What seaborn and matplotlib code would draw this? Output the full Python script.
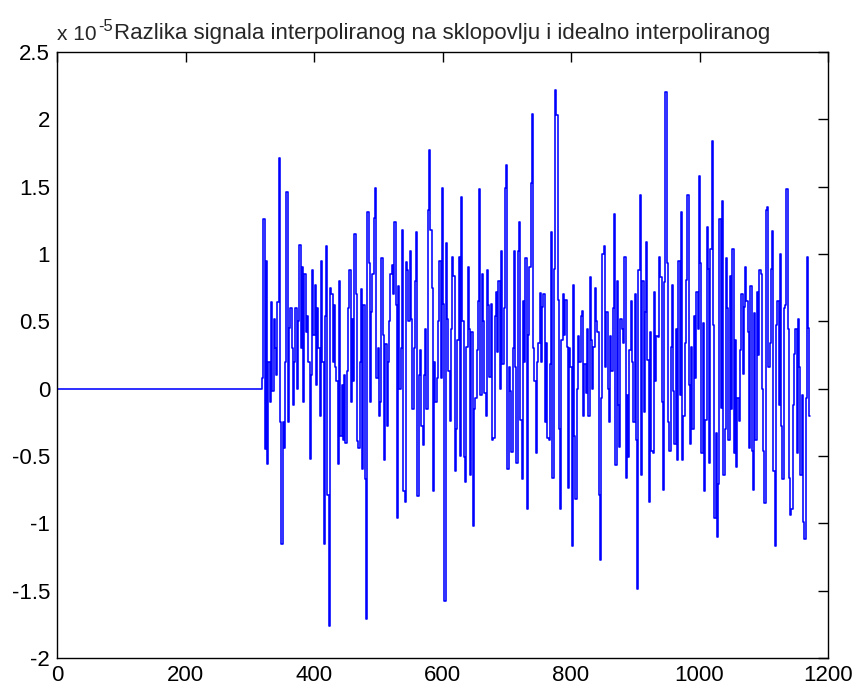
import numpy as np
import pandas as pd
import matplotlib
matplotlib.use("Agg")
import matplotlib.pyplot as plt
import seaborn as sns

# ---------------- data (values in units of 1e-5) ----------------
lead_x = [1, 319]          # flat zero segment before the noise starts
lead_y = [0.0, 0.0]
noise_start = 320
noise_end = 1172

seg1 = [0.08, 1.26, -0.45, 0.95, -0.56, 0.2, -0.1, 0.64, -0.02, 0.52, 0.3, 0.1, 0.64, 1.71,
        -0.25, -1.15, -0.25, -0.44, 0.2, 1.46, -0.25, 0.45, 0.6, 0.3, -0.12, 0.2, 0.6, 0.0,
        0.5, 1.07, 0.3, 0.9, -0.1, 0.85, 0.42, 0.54, 0.2, -0.52, 0.1, 0.88, 0.4, 0.77, 0.03,
        0.6, 0.3, -0.2, 0.95, 0.2, -1.15, 0.54, 1.06, -0.79, -1.76, 0.75, 0.7, 0.2, 0.62,
        0.16, 0.06, -0.56, 0.8, -0.35, 0.03, -0.38, 0.1, -0.4, 0.13, 0.6, 0.88, -0.1, 0.52]
seg2 = [0.06, 1.15, 0.7, -0.39, -0.44, 0.2, 0.74, -0.6, 0.62, -0.67, -1.71, 1.31, 0.93,
        -0.1, 0.57, 0.85, 1.27, 1.49, 0.08, 0.3, -0.2, -0.1, 0.97, 0.4, -0.53, 0.33, -0.28,
        0.2, 0.5, 0.85, 0.92, 0.7, 1.24, 0.62, -0.96, 0.76, 0.0, 0.3, 1.18, -0.76, -0.84,
        0.94, 0.88, 0.5, 1.02, 0.52, -0.15, 0.3, 0.8, 1.16, -0.8, 0.1, 0.29, -0.28, -0.42,
        0.1, 0.44, -0.15, 1.33, 1.77, 1.18, 0.75, -0.76, 0.2, -0.1, 0.08, 0.5, 0.95, 0.08,
        1.49, 0.63, -1.58, 1.08, 0.52]
seg3 = [0.13, -0.24, 0.44, 0.98, 0.84, -0.61, -0.3, 0.36, 0.98, -0.5, 1.42, 0.5, -0.51,
        -0.69, 0.31, 0.9, 0.44, -0.64, 0.42, -1.02, -0.15, -0.07, 0.29, 0.65, 1.48, -0.05,
        0.85, 0.5, -0.03, -0.2, 0.88, 0.62, 0.09, 0.63, -0.38, -0.37, 0.54, 0.72, 0.27, 0.8,
        0.0, 1.02, 0.18, 0.6, 1.49, 1.66, -0.6, 0.16, -0.02, -0.47, 0.3, 1.02, 0.16, -0.55,
        1.02, 1.24, -0.23, -0.67, 0.65, 0.2, 0.97, -0.89, 0.4, 0.9, 1.53, 2.04, 0.3, 0.06,
        -0.48, 0.2, 0.34, 0.71, 0.2, 0.61]
seg4 = [0.7, -0.25, 0.34, -0.37, -0.38, 0.18, 1.16, -0.66, 0.89, 2.22, 2.03, 0.66, -0.3,
        -0.89, 0.36, 0.7, 0.4, 0.66, 0.31, -0.74, 0.3, 0.16, -1.17, 0.77, -0.35, -0.82, 0.0,
        0.39, 0.2, 0.54, 0.58, -0.2, 0.18, -0.03, 0.44, -0.2, 0.83, 0.36, 0.0, 0.31, 0.75,
        0.5, 0.42, -0.79, -1.27, -0.07, 1.0, 1.06, 0.16, 0.57, 0.0, -0.25, 0.39, 0.13, 0.6,
        1.3, -0.57, 0.8, -0.12, -0.43, 0.52, 0.44, 0.34, 0.98, -0.66, -0.05, -0.51, 0.29,
        0.65, 0.2, -0.25, 0.7, -0.38, -1.49]
seg5 = [0.88, 1.44, -0.64, 0.8, -0.17, 0.57, 1.09, 0.21, -0.84, 0.42, -0.46, -0.48, 0.72,
        0.06, 0.39, 0.38, 0.98, 0.83, -0.1, -0.75, 0.79, 2.2, 0.93, -0.25, -0.46, 0.31,
        0.77, -0.02, -0.41, 0.44, -0.53, 0.95, -0.05, 1.31, -0.53, -0.2, 0.34, 0.81, 1.44,
        0.03, -0.41, 0.31, -0.3, 0.54, 0.08, 0.72, 0.44, 1.58, 0.93, -0.48, 0.49, -0.76,
        -0.23, 1.2, 0.89, -0.55, 1.04, 1.84, 0.47, -0.96, -0.33, -1.1, -0.71, 1.26, -0.14,
        1.39, -0.64, -0.3, 0.97, 0.6, -0.38, 0.84, -0.15, 1.04]
seg6 = [-0.48, 0.36, -0.58, -0.07, -0.24, 0.29, 0.7, 0.11, 0.61, 0.9, 0.65, 0.42, -0.44,
        0.76, -0.46, -0.75, 0.56, -0.38, 0.72, 0.25, 0.88, 0.85, 0.0, -0.46, -0.85, 1.33,
        1.35, 0.16, 0.34, 0.89, 1.17, -0.61, -1.17, 0.47, 0.65, -0.12, 1.0, -0.28, -0.67,
        0.6, 0.62, 1.48, 0.44, -0.66, -0.94, -0.89, -0.12, 0.26, 0.44, -0.48, 0.52, 0.16,
        -0.64, -0.05, -0.99, -1.12, -0.07, 0.98, 0.45, -0.2]

x_ticks = [0, 200, 400, 600, 800, 1000, 1200]
y_ticks = [-2, -1.5, -1, -0.5, 0, 0.5, 1, 1.5, 2, 2.5]
y_tick_labels = ["-2", "-1.5", "-1", "-0.5", "0", "0.5", "1", "1.5", "2", "2.5"]
x_tick_labels = ["0", "200", "400", "600", "800", "1000", "1200"]
title = "Razlika signala interpoliranog na sklopovlju i idealno interpoliranog"

# ---------------- build frame ----------------
noise = np.array(seg1 + seg2 + seg3 + seg4 + seg5 + seg6)
nx = np.linspace(noise_start, noise_end, len(noise))
df = pd.DataFrame({
    "n": np.concatenate([lead_x, nx]),
    "v": np.concatenate([lead_y, noise]),
})

# ---------------- plot ----------------
sns.set_style("white")
plt.rcParams["font.family"] = ["Liberation Sans Narrow", "Liberation Sans", "DejaVu Sans"]

fig = plt.figure(figsize=(8.55, 6.86), dpi=100)
ax = fig.add_axes([57 / 855, 1 - 658 / 686, (828 - 57) / 855, (658 - 52) / 686])

sns.lineplot(data=df, x="n", y="v", ax=ax, estimator=None, sort=False,
             color="#0000ff", linewidth=1.15, drawstyle="steps-mid")

ax.set_xlim(0, 1200)
ax.set_ylim(-2, 2.5)
ax.set_xticks(x_ticks)
ax.set_xticklabels(x_tick_labels)
ax.set_yticks(y_ticks)
ax.set_yticklabels(y_tick_labels)
ax.set_xlabel("")
ax.set_ylabel("")

for s in ax.spines.values():
    s.set_visible(True)
    s.set_color("black")
    s.set_linewidth(1.0)

ax.tick_params(direction="in", length=7, width=1, colors="black",
               top=True, right=True, labelsize=16, pad=5)

ax.set_title(title, fontsize=16, pad=9)
fig.text(57 / 855, 1 - 40 / 686, "x 10", fontsize=15, ha="left", va="baseline")
fig.text(98 / 855, 1 - 31 / 686, "-5", fontsize=12, ha="left", va="baseline")

fig.savefig("out.png", dpi=100, facecolor="white")
